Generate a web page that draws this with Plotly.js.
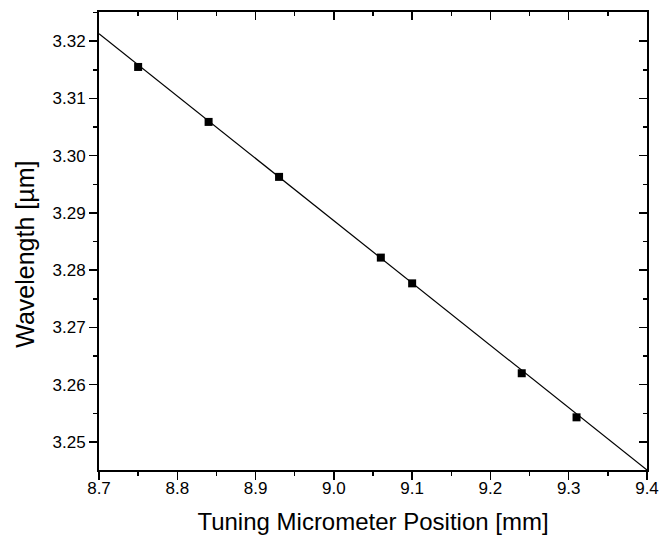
<!DOCTYPE html>
<html>
<head>
<meta charset="utf-8">
<script src="https://cdn.plot.ly/plotly-3.0.1.min.js"></script>
<style>html,body{margin:0;padding:0;background:#fff;}#chart{width:670px;height:535px;}</style>
</head>
<body>
<div id="chart"></div>
<script>
// Measured data points
const micrometer = [8.75, 8.84, 8.93, 9.06, 9.10, 9.24, 9.31];
const wavelength = [3.3155, 3.3059, 3.2963, 3.2822, 3.2777, 3.2620, 3.2543];
// Linear fit line (endpoints)
const fitX = [8.7, 9.4];
const fitY = [3.3213, 3.2451];

const xRange = [8.7, 9.4];
const yRange = [3.2451, 3.3251];
const xTickVals = [8.7, 8.8, 8.9, 9.0, 9.1, 9.2, 9.3, 9.4];
const xTickText = ['8.7', '8.8', '8.9', '9.0', '9.1', '9.2', '9.3', '9.4'];
const yTickVals = [3.25, 3.26, 3.27, 3.28, 3.29, 3.30, 3.31, 3.32];
const yTickText = ['3.25', '3.26', '3.27', '3.28', '3.29', '3.30', '3.31', '3.32'];

const FONT = 'Liberation Sans, Arial, Helvetica, sans-serif';

const traces = [
  {
    x: fitX, y: fitY, type: 'scatter', mode: 'lines',
    line: {color: '#000', width: 1.2},
    xaxis: 'x', yaxis: 'y', hoverinfo: 'skip', showlegend: false
  },
  {
    x: micrometer, y: wavelength, type: 'scatter', mode: 'markers',
    marker: {symbol: 'square', size: 8, color: '#000', line: {width: 0}},
    xaxis: 'x2', yaxis: 'y2', showlegend: false
  }
];

const layout = {
  width: 670, height: 535,
  margin: {l: 99, r: 23, t: 12, b: 65},
  paper_bgcolor: '#fff', plot_bgcolor: '#fff',
  font: {family: FONT, color: '#000', size: 17},
  showlegend: false,
  xaxis: {
    range: xRange, tickmode: 'array', tickvals: xTickVals, ticktext: xTickText,
    ticks: 'outside', ticklen: 8, tickwidth: 1.5, tickcolor: '#000',
    ticklabelstandoff: -6,
    minor: {tickmode: 'linear', tick0: 8.75, dtick: 0.1, ticks: 'outside', ticklen: 4, tickwidth: 1.5, tickcolor: '#000', showgrid: false},
    showline: true, linecolor: '#000', linewidth: 2, mirror: true,
    showgrid: false, zeroline: false,
    tickfont: {family: FONT, size: 17, color: '#000'},
    title: {text: 'Tuning Micrometer Position [mm]', font: {family: FONT, size: 24, color: '#000'}, standoff: 19}
  },
  yaxis: {
    range: yRange, tickmode: 'array', tickvals: yTickVals, ticktext: yTickText,
    ticks: 'outside', ticklen: 8, tickwidth: 1.5, tickcolor: '#000',
    minor: {tickmode: 'linear', tick0: 3.245, dtick: 0.01, ticks: 'outside', ticklen: 4, tickwidth: 1.5, tickcolor: '#000', showgrid: false},
    showline: true, linecolor: '#000', linewidth: 2, mirror: true,
    showgrid: false, zeroline: false,
    tickfont: {family: FONT, size: 17, color: '#000'}
  },
  xaxis2: {
    range: xRange, overlaying: 'x', side: 'top', anchor: 'y2',
    tickmode: 'array', tickvals: xTickVals, showticklabels: false,
    ticks: 'inside', ticklen: 8, tickwidth: 1.5, tickcolor: '#000',
    minor: {tickmode: 'linear', tick0: 8.75, dtick: 0.1, ticks: 'inside', ticklen: 4, tickwidth: 1.5, tickcolor: '#000', showgrid: false},
    showline: false, showgrid: false, zeroline: false
  },
  yaxis2: {
    range: yRange, overlaying: 'y', side: 'right', anchor: 'x2',
    tickmode: 'array', tickvals: yTickVals, showticklabels: false,
    ticks: 'inside', ticklen: 8, tickwidth: 1.5, tickcolor: '#000',
    minor: {tickmode: 'linear', tick0: 3.245, dtick: 0.01, ticks: 'inside', ticklen: 4, tickwidth: 1.5, tickcolor: '#000', showgrid: false},
    showline: false, showgrid: false, zeroline: false
  },
  annotations: [{
    text: 'Wavelength [µm]', textangle: -90,
    xref: 'paper', yref: 'paper', x: 0, y: 0.47,
    xanchor: 'center', yanchor: 'middle', xshift: -74, showarrow: false,
    font: {family: FONT, size: 25, color: '#000'}
  }]
};

Plotly.newPlot('chart', traces, layout, {displayModeBar: false, staticPlot: true});
</script>
</body>
</html>
